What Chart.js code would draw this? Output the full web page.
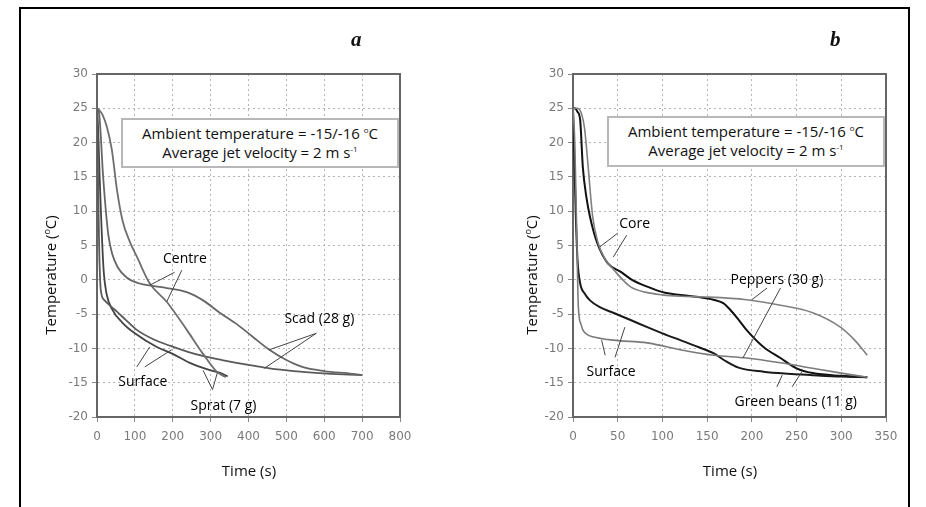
<!DOCTYPE html>
<html><head><meta charset="utf-8">
<script src="https://cdn.jsdelivr.net/npm/chart.js@4/dist/chart.umd.min.js"></script>
<style>
html,body{margin:0;padding:0;background:#fff;width:926px;height:507px;overflow:hidden;font-family:'Open Sans',sans-serif;}
#frame{position:absolute;left:19px;top:7px;width:887px;height:520px;border:2px solid #000;border-bottom:none;}
.cv{position:absolute;top:0;width:463px;height:507px;}
.legend{position:absolute;background:#fff;border:2px solid #b8b8b8;box-sizing:border-box;text-align:center;font-size:15px;line-height:19px;color:#111;padding-top:4px;}
.legend sup{font-size:8px;vertical-align:top;line-height:8px;position:relative;top:2px;}
.ytitle{position:absolute;width:200px;height:20px;line-height:20px;text-align:center;font-size:15px;color:#111;transform:rotate(-90deg);white-space:nowrap;}
.xtitle{position:absolute;width:200px;height:20px;line-height:20px;text-align:center;font-size:15px;color:#111;white-space:nowrap;}
.panel{position:absolute;font-family:'Liberation Serif',serif;font-style:italic;font-weight:bold;font-size:21px;color:#111;}
</style></head>
<body>
<div id="frame"></div>
<div class="cv" style="left:0"><canvas id="ca" width="463" height="507"></canvas></div>
<div class="cv" style="left:463px"><canvas id="cb" width="463" height="507"></canvas></div>
<div class="panel" style="left:351px;top:27px">a</div>
<div class="panel" style="left:830px;top:27px">b</div>
<div class="legend" style="left:121px;top:118px;width:278px;height:50px">Ambient temperature = -15/-16 <sup>o</sup>C<br>Average jet velocity = 2 m s<sup>-1</sup></div>
<div class="legend" style="left:607px;top:116px;width:278px;height:51px">Ambient temperature = -15/-16 <sup>o</sup>C<br>Average jet velocity = 2 m s<sup>-1</sup></div>
<div class="ytitle" style="left:-53px;top:265px">Temperature (<sup style="font-size:9px">o</sup>C)</div>
<div class="ytitle" style="left:428px;top:265px">Temperature (<sup style="font-size:9px">o</sup>C)</div>
<div class="xtitle" style="left:149px;top:460px">Time (s)</div>
<div class="xtitle" style="left:630px;top:460px">Time (s)</div>
<script>
// ---------- Panel a data ----------
const spratSurfT = [0,3,7,11,14,18,25,40,68,100,158,200,245,300,331,345];
const spratSurfV = [25,22,15,9,5,1,-2,-4.3,-6.3,-7.8,-9.8,-10.8,-12.1,-13.2,-13.7,-14.1];
const scadSurfT = [0,2,4,6,10,20,35,52,75,105,150,192,240,279,330,368,420,455,520,587,650,700];
const scadSurfV = [25,18,10,4,-1.5,-3,-3.8,-4.6,-5.8,-7.3,-8.7,-9.6,-10.5,-11.1,-11.7,-12.1,-12.6,-12.9,-13.3,-13.6,-13.8,-13.9];
const scadCentT = [0,5,10,15,21,30,40,55,79,110,147,184,237,280,324,370,411,455,500,542,600,674,700];
const scadCentV = [25,24.5,21,16,11.6,6.5,3.8,1.8,0.3,-0.5,-0.9,-1.2,-1.8,-3,-4.8,-6.5,-8.3,-10.2,-11.7,-12.7,-13.3,-13.7,-13.9];
const spratCentT = [0,8,15,26,39,53,68,87,105,139,184,237,280,316,340];
const spratCentV = [25,24.6,24,22.3,19,13,8.5,5.5,3.4,-0.5,-3.2,-7.3,-10.8,-13.4,-14.2];

// ---------- Panel b data ----------
const beanCoreT = [0,2,5,8,11,15,19,27,39,53,66,83,103,120,140,157,168,176,185,194,213,232,250,268,300,329];
const beanCoreV = [25,25,24.5,23.3,16.4,12,9.2,5.4,2.4,1.2,0,-1,-1.9,-2.2,-2.5,-2.9,-3.4,-4.4,-5.8,-7.3,-9.8,-11.4,-12.9,-13.6,-14,-14.2];
const pepCoreT = [0,5,10,13,17,22,28,36,44,64,81,100,120,148,194,232,268,299,315,329];
const pepCoreV = [25,25,24,22,16.4,9.2,5.4,3,1.7,-1,-1.8,-2.2,-2.4,-2.5,-2.9,-3.7,-4.8,-6.9,-8.8,-11];
const beanSurfT = [0,1,3,5,8,13,19,30,45,65,83,100,120,140,157,170,185,213,240,268,300,329];
const beanSurfV = [25,20,10,3,-0.5,-2,-3,-4,-4.8,-5.9,-6.9,-7.8,-8.8,-9.8,-10.7,-11.8,-12.8,-13.4,-13.7,-13.9,-14.1,-14.2];
const pepSurfT = [0,2,4,6,9,11,16,22,45,83,120,157,194,232,268,300,329];
const pepSurfV = [25,20,8,-4,-6.5,-7.3,-8,-8.3,-8.8,-9.2,-10.2,-11,-11.4,-12.1,-12.9,-13.6,-14.2];

// ---------- Axis ticks ----------
const yTicks = [-20,-15,-10,-5,0,5,10,15,20,25,30];
const xTicksA = [0,100,200,300,400,500,600,700,800];
const xTicksB = [0,50,100,150,200,250,300,350];

// ---------- Annotations (data units) ----------
const aLabels = ['Centre','Surface','Sprat (7 g)','Scad (28 g)'];
const aLabelT = [232,121,334,587];
const aLabelV = [3.0,-14.9,-18.4,-5.7];
const aLeaders = [[205,1.1,139,-0.8],[224,1.4,184,-3.2],[105,-12.7,139,-9.8],[126,-12.7,197,-10.2],
                  [305,-16,280,-13.2],[305,-16,318,-13.5],[579,-7.8,455,-10.2],[579,-7.8,442,-12.9]];
const bLabels = ['Core','Surface','Peppers (30 g)','Green beans (11 g)'];
const bLabelT = [69,42.5,228,249];
const bLabelV = [8.1,-13.4,0,-17.8];
const bLeaders = [[50,6.8,30,4.8],[60,6.5,45,3.3],[36,-11,32,-8.8],[47,-11.3,58,-6.9],
                  [217,-1.2,200,-2.9],[232,-1.2,190,-11.4],[228,-15.6,234,-13.9],[245,-15.6,256,-13.4]];

function pts(t, v){ return t.map((x,i)=>({x:x, y:v[i]})); }
function ds(t, v, color, w){
  return {data: pts(t,v), borderColor: color, borderWidth: w, showLine: true, pointRadius: 0,
          fill: false, cubicInterpolationMode: 'monotone'};
}

function annotPlugin(labels, lt, lv, leaders){
  return {
    id: 'annot',
    afterDraw(chart){
      const ctx = chart.ctx, xs = chart.scales.x, ys = chart.scales.y, ca = chart.chartArea;
      ctx.save();
      ctx.strokeStyle = '#666'; ctx.lineWidth = 2;
      ctx.beginPath();
      ctx.moveTo(ca.left, ca.top); ctx.lineTo(ca.right, ca.top); ctx.lineTo(ca.right, ca.bottom);
      ctx.stroke();
      ctx.strokeStyle = '#444'; ctx.lineWidth = 1;
      leaders.forEach(l => {
        ctx.beginPath();
        ctx.moveTo(xs.getPixelForValue(l[0]), ys.getPixelForValue(l[1]));
        ctx.lineTo(xs.getPixelForValue(l[2]), ys.getPixelForValue(l[3]));
        ctx.stroke();
      });
      ctx.fillStyle = '#000';
      ctx.font = '14px "Open Sans"';
      ctx.textAlign = 'center'; ctx.textBaseline = 'middle';
      labels.forEach((s,i) => {
        ctx.fillText(s, xs.getPixelForValue(lt[i]), ys.getPixelForValue(lv[i]));
      });
      ctx.restore();
    }
  };
}

function options(xMax, xTicks, yWidth, padRight){
  return {
    responsive: false, animation: false, devicePixelRatio: 1,
    layout: {padding: {top: 74, right: padRight, left: 0, bottom: 0}},
    plugins: {legend: {display: false}, tooltip: {enabled: false}},
    scales: {
      x: {type: 'linear', min: 0, max: xMax,
          afterBuildTicks(s){ s.ticks = xTicks.map(v=>({value:v})); },
          afterFit(s){ s.height = 90; },
          ticks: {color: '#7a7a7a', font: {family: 'DejaVu Sans', size: 12}, padding: 8, maxRotation: 0},
          grid: {color: '#b5b5b5', lineWidth: 1, tickLength: 5, tickColor: '#888', tickBorderDash: []},
          border: {display: true, color: '#666', width: 2, dash: [2,3]}},
      y: {type: 'linear', min: -20, max: 30,
          afterBuildTicks(s){ s.ticks = yTicks.map(v=>({value:v})); },
          afterFit(s){ s.width = yWidth; },
          ticks: {color: '#7a7a7a', font: {family: 'DejaVu Sans', size: 12}, padding: 4},
          grid: {color: '#b5b5b5', lineWidth: 1, tickLength: 5, tickColor: '#888', tickBorderDash: []},
          border: {display: true, color: '#666', width: 2, dash: [2,3]}}
    }
  };
}

new Chart(document.getElementById('ca'), {
  type: 'scatter',
  data: {datasets: [
    ds(scadCentT, scadCentV, '#666', 1.8),
    ds(spratCentT, spratCentV, '#6e6e6e', 1.8),
    ds(scadSurfT, scadSurfV, '#5a5a5a', 1.8),
    ds(spratSurfT, spratSurfV, '#444', 1.8)
  ]},
  options: options(800, xTicksA, 97, 63),
  plugins: [annotPlugin(aLabels, aLabelT, aLabelV, aLeaders)]
});

new Chart(document.getElementById('cb'), {
  type: 'scatter',
  data: {datasets: [
    ds(pepCoreT, pepCoreV, '#808080', 1.6),
    ds(pepSurfT, pepSurfV, '#7a7a7a', 1.6),
    ds(beanSurfT, beanSurfV, '#1a1a1a', 2),
    ds(beanCoreT, beanCoreV, '#111', 2)
  ]},
  options: options(350, xTicksB, 110, 40),
  plugins: [annotPlugin(bLabels, bLabelT, bLabelV, bLeaders)]
});
</script>
</body></html>
